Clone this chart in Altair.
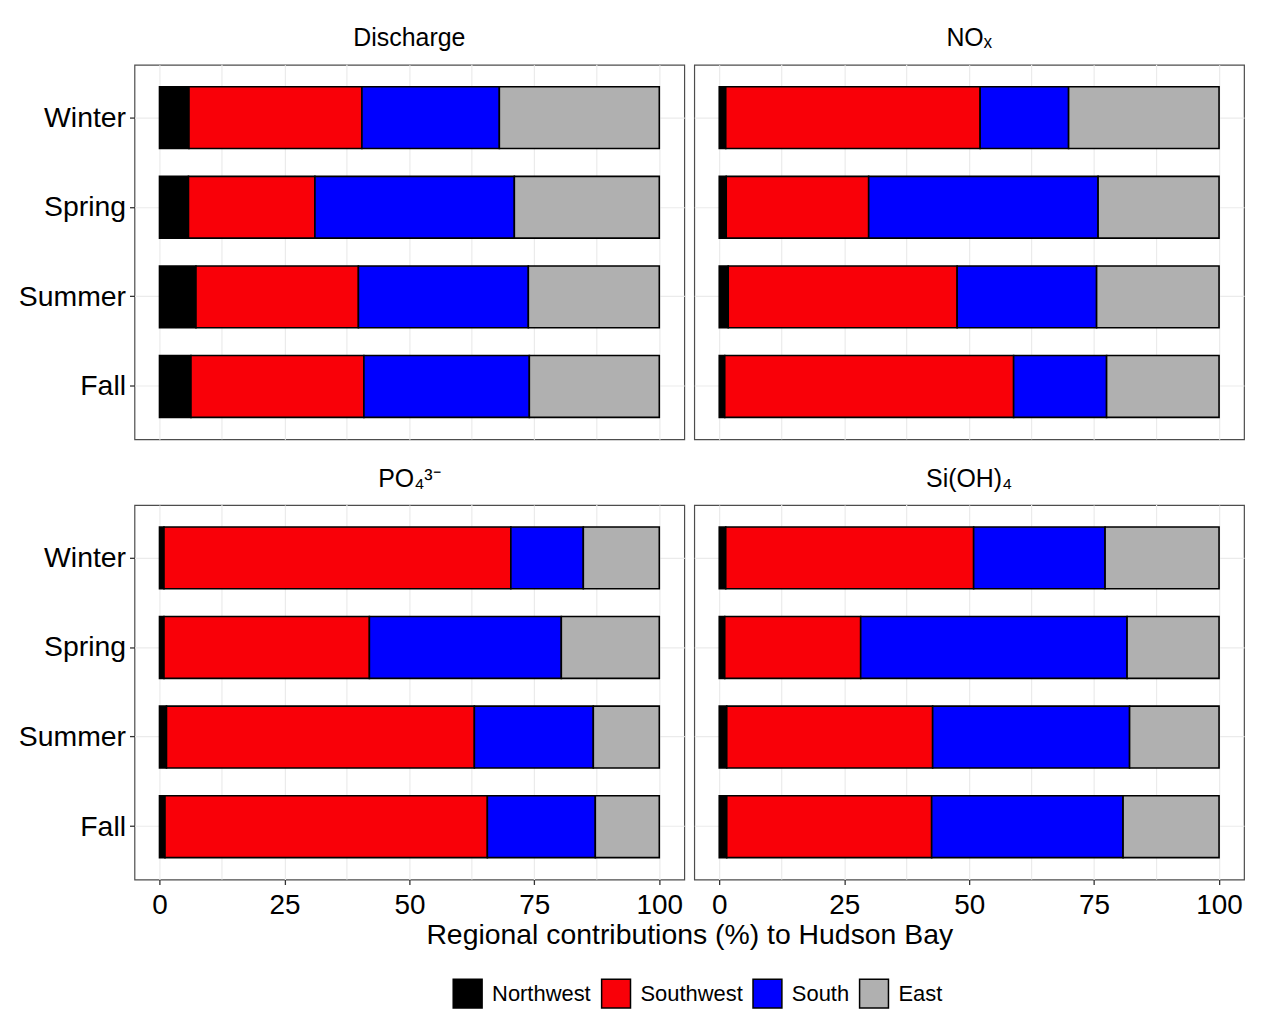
import altair as alt
import pandas as pd

seasons = ["Winter", "Spring", "Summer", "Fall"]
regions = ["Northwest", "Southwest", "South", "East"]
region_colors = ["#000000", "#F90008", "#0000FF", "#B0B0B0"]
panel_titles = ["Discharge", "NOₓ", "PO₄³⁻", "Si(OH)₄"]

x_ticks = [0, 25, 50, 75, 100]
x_minor = [12.5, 37.5, 62.5, 87.5]
x_title = "Regional contributions (%) to Hudson Bay"

# regional share (%) per season, in the order Winter, Spring, Summer, Fall
discharge = {
    "Northwest": [5.9, 5.8, 7.3, 6.3],
    "Southwest": [34.6, 25.3, 32.5, 34.6],
    "South": [27.5, 39.9, 34.0, 33.1],
    "East": [32.0, 29.0, 26.2, 26.0],
}
nox = {
    "Northwest": [1.3, 1.4, 1.8, 1.1],
    "Southwest": [50.9, 28.5, 45.8, 57.8],
    "South": [17.7, 45.9, 27.9, 18.6],
    "East": [30.1, 24.2, 24.5, 22.5],
}
po4 = {
    "Northwest": [0.9, 0.9, 1.4, 1.1],
    "Southwest": [69.4, 41.1, 61.6, 64.5],
    "South": [14.5, 38.4, 23.8, 21.6],
    "East": [15.2, 19.6, 13.2, 12.8],
}
sioh4 = {
    "Northwest": [1.3, 1.1, 1.5, 1.5],
    "Southwest": [49.6, 27.2, 41.2, 41.0],
    "South": [26.3, 53.3, 39.4, 38.3],
    "East": [22.8, 18.4, 17.9, 19.2],
}

W, H = 552, 376


def panel(data, title, show_x, show_y, with_x_title=False):
    rows = []
    for r_i, reg in enumerate(regions):
        for s_i, s in enumerate(seasons):
            rows.append({"season": s, "region": reg, "order": r_i,
                         "value": data[reg][s_i]})
    df = pd.DataFrame(rows)
    xscale = alt.Scale(domain=[-5, 105], nice=False, zero=False)
    if show_x:
        xaxis_kw = dict(values=x_ticks, grid=True, labels=True, ticks=True,
                        tickSize=5, labelFontSize=28, labelPadding=7,
                        domain=False)
        if with_x_title:
            xaxis_kw.update(title=x_title, titleFontSize=28.5,
                            titleFontWeight="normal", titleX=557,
                            titleAlign="center", titlePadding=1)
        else:
            xaxis_kw.update(title=None)
        xaxis = alt.Axis(**xaxis_kw)
    else:
        xaxis = alt.Axis(values=x_ticks, grid=True, labels=False, ticks=False,
                         domain=False, title=None)
    if show_y:
        yaxis = alt.Axis(grid=True, bandPosition=0.5, labels=True, ticks=True,
                         tickSize=5, labelFontSize=28.5, labelPadding=4,
                         domain=False, title=None)
    else:
        yaxis = alt.Axis(grid=True, bandPosition=0.5, labels=False,
                         ticks=False, domain=False, title=None)

    minor = alt.Chart(pd.DataFrame({"value": x_minor})).mark_rule(
        color="#EBEBEB", strokeWidth=1.2
    ).encode(x=alt.X("value:Q", scale=xscale, axis=xaxis))

    bars = alt.Chart(df).mark_bar(stroke="black", strokeWidth=1.6).encode(
        y=alt.Y("season:N", sort=seasons,
                scale=alt.Scale(domain=seasons, paddingInner=0.31,
                                paddingOuter=0.245),
                axis=yaxis),
        x=alt.X("value:Q", stack="zero", scale=xscale, axis=xaxis),
        color=alt.Color(
            "region:N",
            scale=alt.Scale(domain=regions, range=region_colors),
            legend=alt.Legend(
                orient="none", legendX=319, legendY=917,
                direction="horizontal", columns=4, title=None,
                symbolType="square", symbolSize=841,
                symbolStrokeColor="black", symbolStrokeWidth=1.5,
                symbolOpacity=1, labelFontSize=22, labelOffset=9,
                columnPadding=7, padding=0, labelColor="black",
            ),
        ),
        order=alt.Order("order:Q"),
    )
    return alt.layer(minor, bars).properties(
        width=W, height=H,
        title=alt.TitleParams(text=title, fontSize=25, fontWeight="normal",
                              anchor="middle", baseline="alphabetic",
                              offset=-7, color="black"),
    )


tl = panel(discharge, panel_titles[0], False, True)
tr = panel(nox, panel_titles[1], False, False)
bl = panel(po4, panel_titles[2], True, True, with_x_title=True)
br = panel(sioh4, panel_titles[3], True, False)

chart = alt.concat(
    tl, tr, bl, br, columns=2, spacing={"row": 66, "column": 10},
    bounds="flush"
).properties(
    padding={"left": 9, "top": 15, "right": 10, "bottom": 5}
).configure(
    font="Liberation Sans"
).configure_view(
    stroke="#4d4d4d", strokeWidth=1.2
).configure_axis(
    gridColor="#EBEBEB", gridWidth=1.2, tickColor="#333333",
    tickWidth=1.3, labelColor="black", titleColor="black"
)

chart.save("out.html", embed_options={"renderer": "svg", "actions": False})
